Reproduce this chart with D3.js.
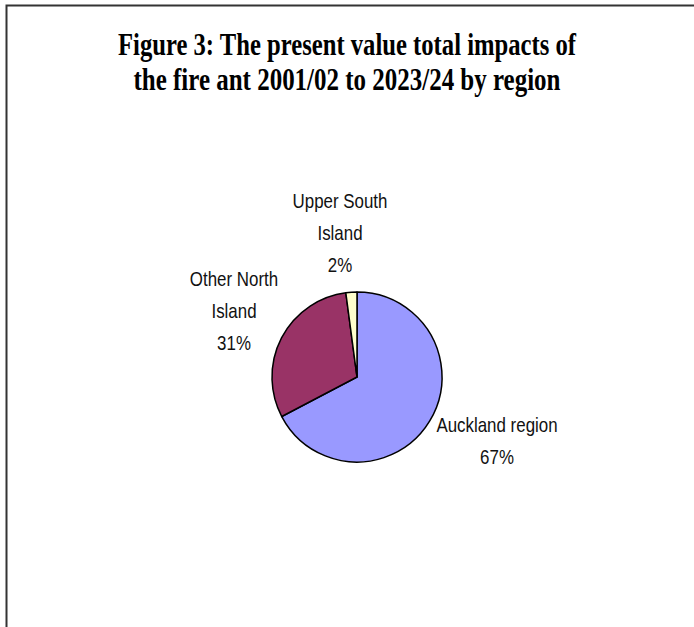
<!DOCTYPE html>
<html>
<head>
<meta charset="utf-8">
<script src="https://cdn.jsdelivr.net/npm/d3@7"></script>
<style>
  body { margin: 0; background: #fff; }
  svg { display: block; }
</style>
</head>
<body>
<div id="chart"></div>
<script>
// chart data
var regions = ["Auckland region", "Other North Island", "Upper South Island"];
var shares = [67.3, 30.6, 2.1];
var pctLabels = ["67%", "31%", "2%"];
var labelLines = [["Auckland region"], ["Other North", "Island"], ["Upper South", "Island"]];
var colors = ["#9999FF", "#993366", "#FFFFCC"];

var width = 694, height = 627;
var cx = 357, cy = 377, r = 85;

var svg = d3.select("#chart").append("svg")
    .attr("width", width)
    .attr("height", height);

// frame (runs off the right and bottom of the picture)
svg.append("rect")
    .attr("x", 6.5).attr("y", 5.5)
    .attr("width", width + 20).attr("height", height + 20)
    .attr("fill", "#fff")
    .attr("stroke", "#333").attr("stroke-width", 2);

// title
var title = ["Figure 3: The present value total impacts of",
             "the fire ant 2001/02 to 2023/24 by region"];
var titleLen = [458, 427];
svg.selectAll("text.title").data(title).enter().append("text")
    .attr("class", "title")
    .attr("x", 347)
    .attr("y", function(d, i) { return 55 + i * 35; })
    .attr("text-anchor", "middle")
    .attr("font-family", "'Liberation Serif', 'Times New Roman', serif")
    .attr("font-weight", "bold")
    .attr("font-size", 31)
    .attr("textLength", function(d, i) { return titleLen[i]; })
    .attr("lengthAdjust", "spacingAndGlyphs")
    .text(function(d) { return d; });

var pie = d3.pie().sort(null).value(function(d) { return d; });
var arc = d3.arc().innerRadius(0).outerRadius(r);

var g = svg.append("g").attr("transform", "translate(" + cx + "," + cy + ")");

g.selectAll("path").data(pie(shares)).enter().append("path")
    .attr("d", arc)
    .attr("fill", function(d, i) { return colors[i]; })
    .attr("stroke", "#000")
    .attr("stroke-width", 1.5)
    .attr("stroke-linejoin", "round");

// data labels: first baseline relative to pie centre (text is narrow, Excel style)
var labelAt = [[140, 55], [-123, -91], [-17, -169]];
var lineGap = 32;
var emWidth = 16.9;   // px per em after horizontal squeeze

pie(shares).forEach(function(d, i) {
  var lines = labelLines[i].concat([pctLabels[i]]);
  var x0 = cx + labelAt[i][0];
  var y0 = cy + labelAt[i][1];
  lines.forEach(function(t, k) {
    var txt = svg.append("text")
        .attr("x", x0)
        .attr("y", y0 + k * lineGap)
        .attr("text-anchor", "middle")
        .attr("font-family", "'Liberation Sans', Arial, sans-serif")
        .attr("font-size", 21)
        .attr("fill", "#111")
        .text(t);
    // squeeze horizontally to match the narrow labels
    var w = txt.node().getComputedTextLength() * emWidth / 21;
    txt.attr("textLength", w).attr("lengthAdjust", "spacingAndGlyphs");
  });
});
</script>
</body>
</html>
